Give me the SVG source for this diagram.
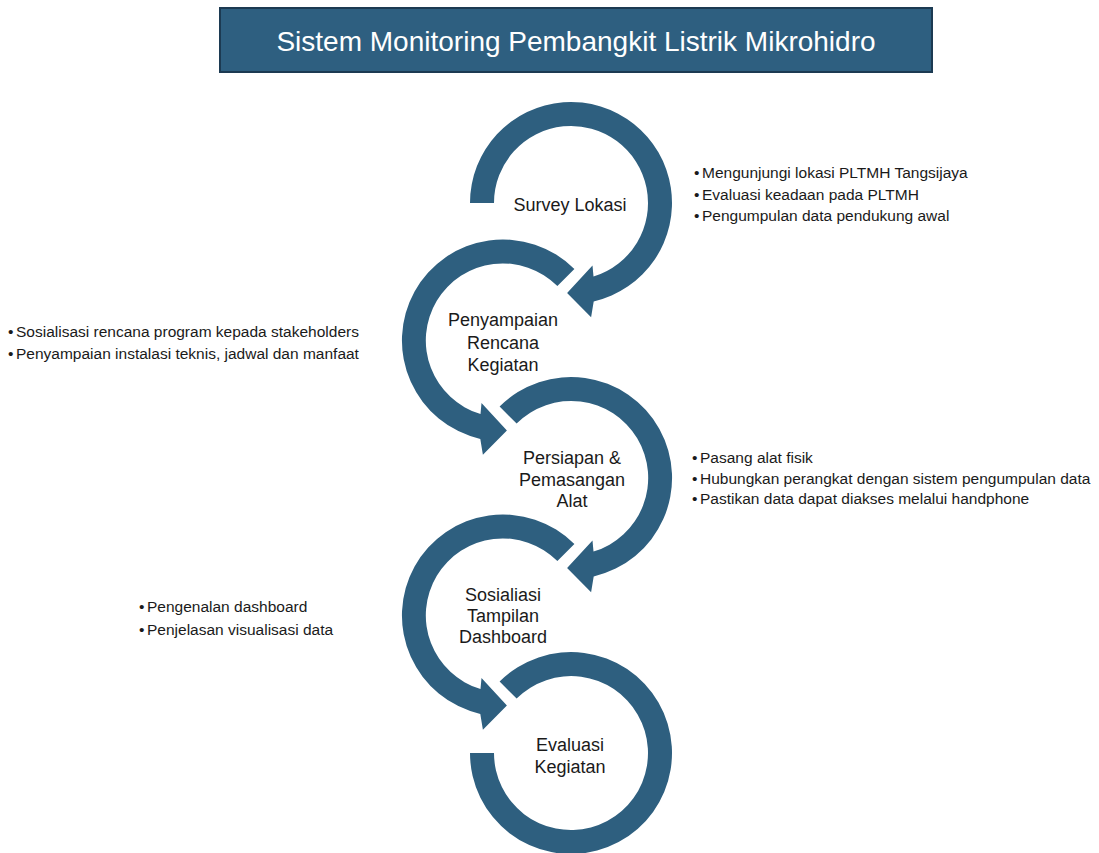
<svg xmlns="http://www.w3.org/2000/svg" xmlns:xlink="http://www.w3.org/1999/xlink" width="1099" height="853" viewBox="0 0 1099 853">
<style>
  .arc { fill: #2E5F7F; }
  .lbl { font-family: "Liberation Sans", Arial, sans-serif; font-size: 18px; fill: #1a1a1a; text-anchor: middle; }
  .bul { font-family: "Liberation Sans", Arial, sans-serif; font-size: 15.5px; fill: #1a1a1a; }
  .title { font-family: "Liberation Sans", Arial, sans-serif; font-size: 28px; fill: #ffffff; text-anchor: middle; }
</style>
<defs>
  <path id="cwTail" d="M -101 0 A 101 101 0 1 1 22.7 98.4 L 20.1 114.2 L -3.9 89.9 L 21.5 62.4 L 22.5 73.6 A 77 77 0 1 0 -77 0 Z"/>
  <path id="cwCut" d="M -71.4 -71.4 A 101 101 0 1 1 22.7 98.4 L 20.1 114.2 L -3.9 89.9 L 21.5 62.4 L 22.5 73.6 A 77 77 0 1 0 -54.4 -54.4 Z"/>
  <path id="ccwCut" d="M 71.4 -71.4 A 101 101 0 1 0 -22.7 98.4 L -20.1 114.2 L 3.9 89.9 L -21.5 62.4 L -22.5 73.6 A 77 77 0 1 1 54.4 -54.4 Z"/>
  <path id="endArc" d="M -71.4 -71.4 A 101 101 0 1 1 -101 0 L -77 0 A 77 77 0 1 0 -54.4 -54.4 Z"/>
</defs>
<rect width="1099" height="853" fill="#ffffff"/>

<g id="title">
  <rect x="220" y="8" width="712" height="64" fill="#2E5F80" stroke="#1C3A52" stroke-width="2"/>
  <text class="title" x="576" y="51">Sistem Monitoring Pembangkit Listrik Mikrohidro</text>
</g>

<g id="connectors">
  <use xlink:href="#cwTail" class="arc" transform="translate(571,203)"/>
  <use xlink:href="#ccwCut" class="arc" transform="translate(503,340.5)"/>
  <use xlink:href="#cwCut" class="arc" transform="translate(571,478)"/>
  <use xlink:href="#ccwCut" class="arc" transform="translate(503,615.5)"/>
  <use xlink:href="#endArc" class="arc" transform="translate(571,753)"/>
</g>

<g id="node-survey">
  <text class="lbl" x="570" y="211">Survey Lokasi</text>
</g>
<g id="node-penyampaian">
  <text class="lbl" x="503" y="326">Penyampaian</text>
  <text class="lbl" x="503" y="349">Rencana</text>
  <text class="lbl" x="503" y="371">Kegiatan</text>
</g>
<g id="node-persiapan">
  <text class="lbl" x="572" y="464">Persiapan &amp;</text>
  <text class="lbl" x="572" y="486">Pemasangan</text>
  <text class="lbl" x="572" y="507">Alat</text>
</g>
<g id="node-sosialisasi">
  <text class="lbl" x="503" y="601">Sosialiasi</text>
  <text class="lbl" x="503" y="622">Tampilan</text>
  <text class="lbl" x="503" y="643">Dashboard</text>
</g>
<g id="node-evaluasi">
  <text class="lbl" x="570" y="751">Evaluasi</text>
  <text class="lbl" x="570" y="773">Kegiatan</text>
</g>

<g id="notes-survey" class="bul">
  <text x="694" y="178">•</text><text x="702" y="178">Mengunjungi lokasi PLTMH Tangsijaya</text>
  <text x="694" y="200">•</text><text x="702" y="200">Evaluasi keadaan pada PLTMH</text>
  <text x="694" y="221">•</text><text x="702" y="221">Pengumpulan data pendukung awal</text>
</g>
<g id="notes-penyampaian" class="bul">
  <text x="8" y="337">•</text><text x="16" y="337">Sosialisasi rencana program kepada stakeholders</text>
  <text x="8" y="359">•</text><text x="16" y="359">Penyampaian instalasi teknis, jadwal dan manfaat</text>
</g>
<g id="notes-persiapan" class="bul">
  <text x="692" y="463">•</text><text x="700" y="463">Pasang alat fisik</text>
  <text x="692" y="484">•</text><text x="700" y="484">Hubungkan perangkat dengan sistem pengumpulan data</text>
  <text x="692" y="504">•</text><text x="700" y="504">Pastikan data dapat diakses melalui handphone</text>
</g>
<g id="notes-sosialisasi" class="bul">
  <text x="139" y="612">•</text><text x="147" y="612">Pengenalan dashboard</text>
  <text x="139" y="635">•</text><text x="147" y="635">Penjelasan visualisasi data</text>
</g>
</svg>
